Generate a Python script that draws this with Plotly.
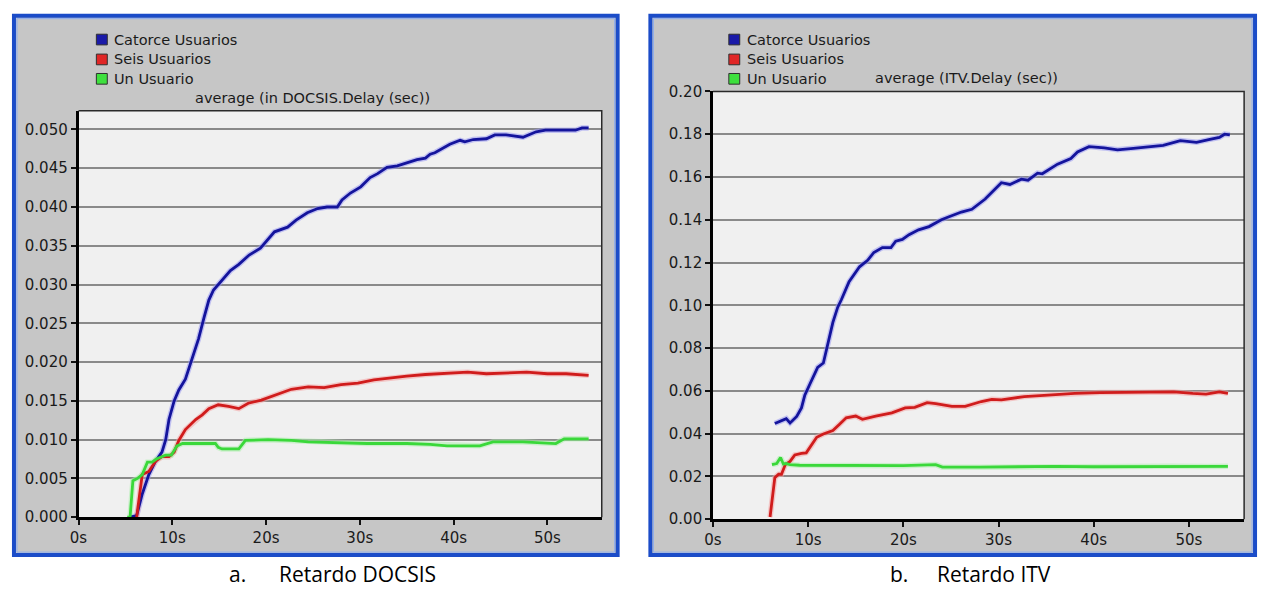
import plotly.graph_objects as go

W, H = 1261, 597

# ---- DOCSIS delay (seconds) ----
doc_catorce_t = [5.5, 6.2, 6.8, 7.5, 8.2, 8.9, 9.3, 9.65, 10.2, 10.7, 11.4, 12.0, 12.8, 13.4,
                 13.9, 14.4, 15.3, 16.2, 17.1, 18.2, 19.4, 20.2, 20.9, 22.3, 23.2, 24.4, 25.5,
                 26.5, 27.6, 28.1, 29.0, 30.1, 31.1, 31.9, 32.9, 34.0, 35.0, 36.1, 37.0, 37.5,
                 38.0, 38.9, 39.6, 40.7, 41.2, 42.1, 43.5, 44.4, 45.6, 47.4, 48.8, 49.8, 51.5,
                 53.0, 53.7, 54.4]
doc_catorce_v = [0.0, 0.0002, 0.0030, 0.0055, 0.0072, 0.0084, 0.0100, 0.0126, 0.0150, 0.0164,
                 0.0178, 0.0200, 0.0230, 0.0258, 0.0280, 0.0293, 0.0305, 0.0318, 0.0326, 0.0338,
                 0.0347, 0.0358, 0.0368, 0.0374, 0.0383, 0.03925, 0.0398, 0.0400, 0.0400, 0.0409,
                 0.0418, 0.0426, 0.0438, 0.0443, 0.0451, 0.0453, 0.0457, 0.0461, 0.0463, 0.0468,
                 0.0470, 0.0476, 0.0481, 0.0486, 0.0484, 0.0487, 0.0488, 0.0493, 0.0493, 0.0490,
                 0.0497, 0.0499, 0.0499, 0.0499, 0.0502, 0.0502]

doc_seis_t = [6.2, 6.6, 6.8, 7.5, 8.2, 8.9, 9.65, 10.2, 10.7, 11.4, 12.5, 13.2, 13.9, 14.9,
              16.0, 17.1, 18.1, 19.5, 20.9, 22.7, 24.5, 26.2, 28.0, 29.8, 31.5, 33.5, 35.0,
              37.0, 39.3, 41.5, 43.5, 45.5, 47.8, 50.0, 52.0, 54.4]
doc_seis_v = [0.0, 0.0042, 0.0055, 0.0059, 0.0072, 0.0078, 0.0078, 0.0084, 0.0099, 0.0113,
              0.0126, 0.0132, 0.0140, 0.0145, 0.0143, 0.0140, 0.0147, 0.0151, 0.0157, 0.0165,
              0.0168, 0.0167, 0.0171, 0.0173, 0.0177, 0.0180, 0.0182, 0.0184, 0.0186, 0.0187,
              0.0185, 0.0186, 0.0187, 0.0185, 0.0185, 0.0183]

doc_uno_t = [5.2, 5.5, 5.8, 6.3, 6.8, 7.35, 7.85, 8.3, 9.3, 9.9, 10.5, 11.1, 12.5, 14.6, 14.9,
             15.3, 17.1, 17.8, 20.2, 22.7, 24.5, 27.0, 30.8, 35.0, 37.5, 39.3, 42.8, 44.2, 47.4,
             50.9, 51.8, 54.4]
doc_uno_v = [0.0, 0.0, 0.0047, 0.0050, 0.0055, 0.0071, 0.0071, 0.0075, 0.0080, 0.0080, 0.0092,
             0.0095, 0.0095, 0.0095, 0.0090, 0.0088, 0.0088, 0.0099, 0.0100, 0.0099, 0.0097,
             0.0096, 0.0095, 0.0095, 0.0094, 0.0092, 0.0092, 0.0097, 0.0097, 0.0095, 0.0101,
             0.0101]

# ---- ITV delay (seconds) ----
itv_catorce_t = [6.5, 7.2, 7.7, 8.1, 8.8, 9.3, 9.65, 10.2, 10.5, 11.0, 11.6, 12.1, 12.6, 13.1,
                 13.5, 14.3, 15.4, 16.25, 16.9, 17.8, 18.7, 19.2, 19.9, 20.6, 21.6, 22.7, 24.0,
                 24.8, 26.1, 27.2, 28.6, 30.3, 31.2, 32.4, 33.1, 34.1, 34.6, 36.2, 37.6, 38.3,
                 39.5, 41.1, 42.5, 43.9, 45.6, 47.3, 49.1, 50.8, 52.2, 53.2, 53.75, 54.3]
itv_catorce_v = [0.0447, 0.046, 0.047, 0.045, 0.048, 0.052, 0.058, 0.0633, 0.066, 0.071, 0.073,
                 0.083, 0.092, 0.099, 0.1027, 0.111, 0.118, 0.121, 0.1247, 0.127, 0.127, 0.130,
                 0.1308, 0.133, 0.1353, 0.1368, 0.140, 0.1414, 0.1436, 0.1449, 0.1497, 0.1573,
                 0.1565, 0.159, 0.1585, 0.1618, 0.1615, 0.166, 0.1686, 0.1717, 0.1742, 0.1736,
                 0.1727, 0.1733, 0.174, 0.1748, 0.177, 0.1762, 0.1776, 0.1785, 0.180, 0.1797]

itv_seis_t = [6.0, 6.2, 6.5, 6.9, 7.2, 7.6, 8.1, 8.6, 9.3, 9.8, 10.35, 10.9, 11.6, 12.6, 13.3,
              14.0, 15.0, 15.7, 17.1, 18.8, 20.2, 21.2, 22.5, 23.4, 25.1, 26.5, 28.2, 29.3,
              30.3, 32.7, 35.2, 38.0, 40.7, 43.5, 46.3, 48.4, 50.4, 51.8, 53.2, 54.1]
itv_seis_v = [0.001, 0.009, 0.0194, 0.021, 0.021, 0.0255, 0.027, 0.030, 0.0308, 0.031, 0.0345,
              0.0383, 0.0398, 0.0414, 0.0444, 0.0474, 0.0482, 0.0467, 0.0482, 0.0497, 0.052,
              0.0523, 0.0545, 0.054, 0.0527, 0.0527, 0.055, 0.056, 0.0558, 0.0573, 0.058,
              0.0588, 0.0592, 0.0592, 0.0595, 0.0595, 0.0588, 0.0585, 0.0595, 0.0588]

itv_uno_t = [6.2, 6.7, 7.1, 7.4, 7.7, 8.1, 9.1, 12.0, 16.0, 20.0, 23.4, 24.1, 28.0, 32.0,
             36.0, 40.0, 44.0, 48.0, 52.0, 54.1]
itv_uno_v = [0.0255, 0.026, 0.0288, 0.0258, 0.026, 0.0255, 0.0252, 0.0251, 0.0250, 0.0250,
             0.0255, 0.0243, 0.0243, 0.0245, 0.0247, 0.0245, 0.0246, 0.0247, 0.0246, 0.0247]

series_names = ["Catorce Usuarios", "Seis Usuarios", "Un Usuario"]
line_colors = ["#14149C", "#D01C1C", "#3AD83A"]
halo_colors = ["#9A9AF2", "#F4A4A4", "#AEEFAE"]
swatch_colors = ["#1A1AA8", "#E02626", "#3EE03E"]

x_ticks = [0, 10, 20, 30, 40, 50]
x_labels = ["0s", "10s", "20s", "30s", "40s", "50s"]
doc_yticks = [i * 0.005 for i in range(11)]
itv_yticks = [i * 0.02 for i in range(11)]

captions = [("a.", "Retardo DOCSIS"), ("b.", "Retardo ITV")]
titles = ["average (in DOCSIS.Delay (sec))", "average (ITV.Delay (sec))"]

CHART_FONT = "DejaVu Sans"
TEXT_SIZE = 14.5


def px(x):
    return x / W


def py(y):
    return 1 - y / H


fig = go.Figure()

panels = [
    dict(xa="x", ya="y",
         data=[(doc_catorce_t, doc_catorce_v), (doc_seis_t, doc_seis_v), (doc_uno_t, doc_uno_v)]),
    dict(xa="x2", ya="y2",
         data=[(itv_catorce_t, itv_catorce_v), (itv_seis_t, itv_seis_v), (itv_uno_t, itv_uno_v)]),
]

for p in panels:
    # soft halo first, then the line itself
    for (t, v), hc in zip(p["data"], halo_colors):
        fig.add_trace(go.Scatter(x=t, y=v, mode="lines", xaxis=p["xa"], yaxis=p["ya"],
                                 line=dict(color=hc, width=5.5), opacity=0.55,
                                 showlegend=False, hoverinfo="skip"))
    for (t, v), lc, name in zip(p["data"], line_colors, series_names):
        fig.add_trace(go.Scatter(x=t, y=v, mode="lines", name=name, xaxis=p["xa"], yaxis=p["ya"],
                                 line=dict(color=lc, width=2.8), showlegend=False))

axis_common = dict(showline=True, linecolor="#000000", linewidth=2.5, ticks="outside",
                   ticklen=5, tickwidth=1.5, tickcolor="#111111", zeroline=False,
                   tickfont=dict(family=CHART_FONT, size=15, color="#1a1a1a"))

fig.update_layout(
    width=W, height=H,
    margin=dict(l=0, r=0, t=0, b=0),
    paper_bgcolor="#FFFFFF",
    plot_bgcolor="#F0F0F0",
    xaxis=dict(domain=[px(70), px(597)], range=[0, 55.8], tickvals=x_ticks, ticktext=x_labels,
               showgrid=False, anchor="y", **axis_common),
    yaxis=dict(domain=[py(524), py(105)], range=[0, 0.0524], tickvals=doc_yticks,
               tickformat=".3f", showgrid=True, gridcolor="#8A8A8A", gridwidth=1.6,
               anchor="x", **axis_common),
    xaxis2=dict(domain=[px(709), px(1244)], range=[0, 55.8], tickvals=x_ticks, ticktext=x_labels,
                showgrid=False, anchor="y2", **axis_common),
    yaxis2=dict(domain=[py(526), py(85)], range=[0, 0.20], tickvals=itv_yticks,
                tickformat=".2f", showgrid=True, gridcolor="#8A8A8A", gridwidth=1.6,
                anchor="x2", **axis_common),
)

shapes = []
annotations = []

frames = [(5, 7, 613, 563), (646, 7, 1255, 563)]
legend_x = [88, 725]
legend_y = [31.5, 52, 72]
title_pos = [(185, 92), (870, 71)]
caption_pos = [(220, 270, 583), (885, 933, 583)]
axis_refs = [("x", "y"), ("x2", "y2")]

for i in range(2):
    x0, y0, x1, y1 = frames[i]
    # grey window body with blue frame
    shapes.append(dict(type="rect", xref="paper", yref="paper", layer="below",
                       x0=px(x0), x1=px(x1), y0=py(y1), y1=py(y0),
                       fillcolor="#C6C6C6", line=dict(color="#1B4CC8", width=4)))
    shapes.append(dict(type="rect", xref="paper", yref="paper", layer="below",
                       x0=px(x0 + 3), x1=px(x1 - 3), y0=py(y1 - 3), y1=py(y0 + 3),
                       fillcolor="rgba(0,0,0,0)", line=dict(color="#8EADEE", width=1)))
    xr, yr = axis_refs[i]
    # light plot area
    shapes.append(dict(type="rect", xref=xr + " domain", yref=yr + " domain", layer="below",
                       x0=0, x1=1, y0=0, y1=1, fillcolor="#F0F0F0", line=dict(width=0)))
    # thin top/right border of the plot area
    shapes.append(dict(type="path", xref=xr + " domain", yref=yr + " domain", layer="above",
                       path="M 0 1 L 1 1 L 1 0", line=dict(color="#2a2a2a", width=1.5)))

    # legend swatches and labels
    for j in range(3):
        cy = legend_y[j]
        lx = legend_x[i]
        shapes.append(dict(type="rect", xref="paper", yref="paper",
                           x0=px(lx), x1=px(lx + 11), y0=py(cy + 5.5), y1=py(cy - 5.5),
                           fillcolor=swatch_colors[j], line=dict(color="#303030", width=1)))
        annotations.append(dict(text=series_names[j], xref="paper", yref="paper",
                                x=px(lx + 16), y=py(cy), xanchor="left", yanchor="middle",
                                showarrow=False,
                                font=dict(family=CHART_FONT, size=TEXT_SIZE, color="#1a1a1a")))

    tx, ty = title_pos[i]
    annotations.append(dict(text=titles[i], xref="paper", yref="paper", x=px(tx), y=py(ty),
                            xanchor="left", yanchor="middle", showarrow=False,
                            font=dict(family=CHART_FONT, size=TEXT_SIZE, color="#1a1a1a")))

    lx, rx, cy = caption_pos[i]
    annotations.append(dict(text=captions[i][0], xref="paper", yref="paper", x=px(lx), y=py(cy),
                            xanchor="left", yanchor="middle", showarrow=False,
                            font=dict(family="Open Sans", size=21, color="#000000")))
    annotations.append(dict(text=captions[i][1], xref="paper", yref="paper", x=px(rx), y=py(cy),
                            xanchor="left", yanchor="middle", showarrow=False,
                            font=dict(family="Open Sans", size=21, color="#000000")))

fig.update_layout(shapes=shapes, annotations=annotations)

fig.write_html("out.html")
